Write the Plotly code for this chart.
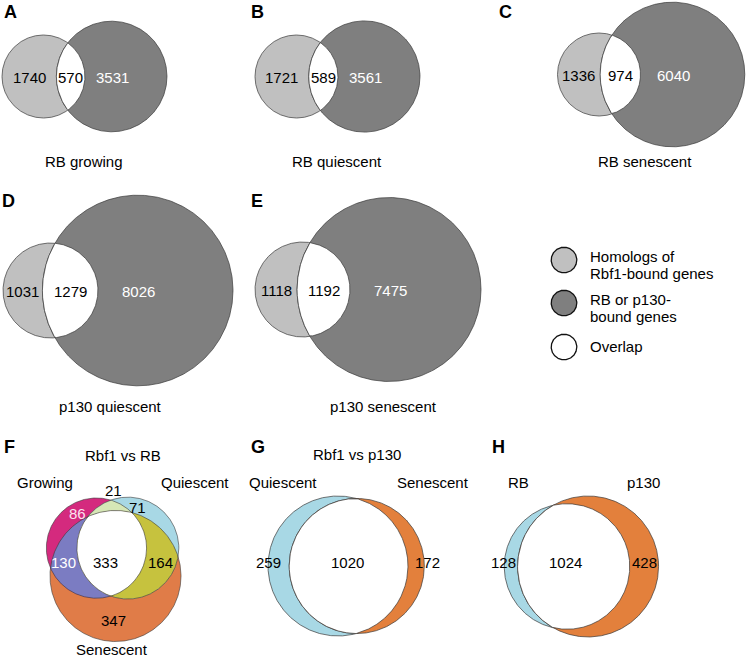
import numpy as np
import plotly.graph_objects as go

# ---------------- data ----------------
two_set_panels = ["A", "B", "C", "D", "E"]
two_set_titles = ["RB growing", "RB quiescent", "RB senescent", "p130 quiescent", "p130 senescent"]
rbf1_only = [1740, 1721, 1336, 1031, 1118]
shared = [570, 589, 974, 1279, 1192]
rb_p130_only = [3531, 3561, 6040, 8026, 7475]

f_title = "Rbf1 vs RB"
f_sets = ["Growing", "Quiescent", "Senescent"]
f_only = [86, 71, 347]          # Growing only, Quiescent only, Senescent only
f_pair_only = [21, 130, 164]    # G&Q only, G&S only, Q&S only
f_all = 333

g_title = "Rbf1 vs p130"
g_sets = ["Quiescent", "Senescent"]
g_values = [259, 1020, 172]     # left only, both, right only

h_sets = ["RB", "p130"]
h_values = [128, 1024, 428]

legend_labels = [["Homologs of", "Rbf1-bound genes"], ["RB or p130-", "bound genes"], ["Overlap"]]

# ---------------- styles / layout ----------------
W, H = 747, 659
FONT = "Liberation Sans, Arial, sans-serif"
LIGHT, DARK, EDGE = "#c0c0c0", "#7f7f7f", "#3a3a3a"
MAG, BLUE, ORANGE = "#d42a7e", "#a8d8e5", "#e07c48"
GREEN, PURPLE, OLIVE = "#d6e7b6", "#7b7cc2", "#c6c23e"
ORANGE2 = "#e3803c"

# per-panel scale (px per sqrt(gene)) and anchor (left circle centre)
two_set_scale = [0.8635, 0.8635, 0.8635, 0.988, 0.988]
two_set_anchor = [(43.5, 76.5), (296.5, 76.5), (599.0, 74.5), (50.5, 290.5), (302.5, 289.5)]
two_set_title_pos = [(84, 161), (337, 161), (645, 161), (110, 406), (383, 406)]
letter_pos = {"A": (10, 12), "B": (257, 12), "C": (505, 12), "D": (8, 201), "E": (257, 201),
              "F": (9, 447), "G": (258, 447), "H": (498, 447)}


def lens_area(r1, r2, d):
    if d >= r1 + r2:
        return 0.0
    if d <= abs(r1 - r2):
        return np.pi * min(r1, r2) ** 2
    a1 = r1 * r1 * np.arccos((d * d + r1 * r1 - r2 * r2) / (2 * d * r1))
    a2 = r2 * r2 * np.arccos((d * d + r2 * r2 - r1 * r1) / (2 * d * r2))
    a3 = 0.5 * np.sqrt((-d + r1 + r2) * (d + r1 - r2) * (d - r1 + r2) * (d + r1 + r2))
    return a1 + a2 - a3


def solve_distance(r1, r2, target):
    lo, hi = abs(r1 - r2), r1 + r2
    for _ in range(100):
        mid = 0.5 * (lo + hi)
        if lens_area(r1, r2, mid) > target:
            lo = mid
        else:
            hi = mid
    return 0.5 * (lo + hi)


def circle_intersections(c1, c2):
    (x1, y1, r1), (x2, y2, r2) = c1, c2
    d = np.hypot(x2 - x1, y2 - y1)
    if d >= r1 + r2 or d <= abs(r1 - r2) or d == 0:
        return []
    a = (d * d + r1 * r1 - r2 * r2) / (2 * d)
    h = np.sqrt(max(r1 * r1 - a * a, 0))
    xm, ym = x1 + a * (x2 - x1) / d, y1 + a * (y2 - y1) / d
    return [(xm + h * (y2 - y1) / d, ym - h * (x2 - x1) / d),
            (xm - h * (y2 - y1) / d, ym + h * (x2 - x1) / d)]


def circle_xy(c, n=721):
    t = np.linspace(0, 2 * np.pi, n)
    return c[0] + c[2] * np.cos(t), c[1] + c[2] * np.sin(t)


def intersection_polygon(circles, n=2880):
    pts = []
    t = np.linspace(0, 2 * np.pi, n, endpoint=False)
    for i, (cx, cy, r) in enumerate(circles):
        x, y = cx + r * np.cos(t), cy + r * np.sin(t)
        m = np.ones(n, bool)
        for j, (cx2, cy2, r2) in enumerate(circles):
            if j != i:
                m &= (x - cx2) ** 2 + (y - cy2) ** 2 <= r2 * r2
        pts.append(np.c_[x[m], y[m]])
    for i in range(len(circles)):
        for j in range(i + 1, len(circles)):
            for p in circle_intersections(circles[i], circles[j]):
                ok = all((p[0] - c[0]) ** 2 + (p[1] - c[1]) ** 2 <= c[2] ** 2 + 1e-6
                         for k, c in enumerate(circles) if k not in (i, j))
                if ok:
                    pts.append(np.array([p]))
    P = np.vstack(pts)
    c = P.mean(axis=0)
    P = P[np.argsort(np.arctan2(P[:, 1] - c[1], P[:, 0] - c[0]))]
    return np.r_[P[:, 0], P[0, 0]], np.r_[P[:, 1], P[0, 1]]


fig = go.Figure()
annotations = []


def add_fill(x, y, color, edge=EDGE, width=0.7):
    fig.add_trace(go.Scatter(x=x, y=y, mode="lines", fill="toself", fillcolor=color,
                             line=dict(color=edge, width=width), hoverinfo="skip", showlegend=False))


def add_outline(c, edge=EDGE, width=0.7):
    x, y = circle_xy(c)
    fig.add_trace(go.Scatter(x=x, y=y, mode="lines", line=dict(color=edge, width=width),
                             hoverinfo="skip", showlegend=False))


def label(x, y, text, color="black", size=15, bold=False, xanchor="center"):
    annotations.append(dict(x=x, y=y, text=f"<b>{text}</b>" if bold else text, showarrow=False,
                            xanchor=xanchor, yanchor="middle", xref="x", yref="y",
                            font=dict(family=FONT, size=size, color=color)))


def two_circle(anchor, k, n_left, n_both, n_right, c_left, c_right):
    r1 = k * np.sqrt(n_left + n_both)
    r2 = k * np.sqrt(n_right + n_both)
    d = solve_distance(r1, r2, np.pi * k * k * n_both)
    cl = (anchor[0], anchor[1], r1)
    cr = (anchor[0] + d, anchor[1], r2)
    add_fill(*circle_xy(cl), c_left)
    add_fill(*circle_xy(cr), c_right)
    add_fill(*intersection_polygon([cl, cr]), "white")
    return cl, cr


# ---- panels A-E ----
for i, p in enumerate(two_set_panels):
    cl, cr = two_circle(two_set_anchor[i], two_set_scale[i], rbf1_only[i], shared[i],
                        rb_p130_only[i], LIGHT, DARK)
    left_edge, lens_l, lens_r = cl[0] - cl[2], cr[0] - cr[2], cl[0] + cl[2]
    yc = cl[1] + 0.5
    label((left_edge + lens_l) / 2, yc, f"{rbf1_only[i]}")
    label((lens_l + lens_r) / 2, yc, f"{shared[i]}")
    label(cr[0] + 1, yc, f"{rb_p130_only[i]}", color="white")
    label(*two_set_title_pos[i], two_set_titles[i])

# ---- panel F (three sets) ----
kF = 2.1
S_centre = (115.5, 576.0)
rG = kF * np.sqrt(f_only[0] + f_pair_only[0] + f_pair_only[1] + f_all)
rQ = kF * np.sqrt(f_only[1] + f_pair_only[0] + f_pair_only[2] + f_all)
rS = kF * np.sqrt(f_only[2] + f_pair_only[1] + f_pair_only[2] + f_all)
unit = np.pi * kF * kF
dGQ = solve_distance(rG, rQ, unit * (f_pair_only[0] + f_all))
dGS = solve_distance(rG, rS, unit * (f_pair_only[1] + f_all))
dQS = solve_distance(rQ, rS, unit * (f_pair_only[2] + f_all))
u = (dQS ** 2 - dGS ** 2 - dGQ ** 2) / (2 * dGQ)
hgt = np.sqrt(max(dGS ** 2 - u ** 2, 0))
cG = (S_centre[0] + u, S_centre[1] - hgt, rG)
cQ = (S_centre[0] + u + dGQ, S_centre[1] - hgt, rQ)
cS = (S_centre[0], S_centre[1], rS)
add_fill(*circle_xy(cS), ORANGE, width=0)
add_fill(*circle_xy(cG), MAG, width=0)
add_fill(*circle_xy(cQ), BLUE, width=0)
add_fill(*intersection_polygon([cG, cQ]), GREEN, width=0)
add_fill(*intersection_polygon([cG, cS]), PURPLE, width=0)
add_fill(*intersection_polygon([cQ, cS]), OLIVE, width=0)
add_fill(*intersection_polygon([cG, cQ, cS]), "white", width=0)
for c in (cG, cQ, cS):
    add_outline(c, width=0.6)

label(123, 455, f_title)
label(45, 482, f_sets[0])
label(195, 482, f_sets[1])
label(112, 649, f_sets[2])
label(113, 490, f"{f_pair_only[0]}")
label(77, 513, f"{f_only[0]}", color="#fbe3ee")
label(137, 507, f"{f_only[1]}")
label(63, 562, f"{f_pair_only[1]}", color="white")
label(105, 562, f"{f_all}")
label(160, 562, f"{f_pair_only[2]}")
label(113, 620, f"{f_only[2]}")

# ---- panel G ----
two_circle((338.0, 566.0), 1.957, g_values[0], g_values[1], g_values[2], BLUE, ORANGE2)
label(357, 454, g_title)
label(283, 482, g_sets[0])
label(433, 482, g_sets[1])
label(268, 562, f"{g_values[0]}")
label(347, 562, f"{g_values[1]}")
label(427, 562, f"{g_values[2]}")

# ---- panel H ----
two_circle((567.0, 566.5), 1.85, h_values[0], h_values[1], h_values[2], BLUE, ORANGE2)
label(518, 482, h_sets[0])
label(643, 482, h_sets[1])
label(503, 562, f"{h_values[0]}")
label(565, 562, f"{h_values[1]}")
label(644, 562, f"{h_values[2]}")

# ---- legend ----
legend_fill = [LIGHT, DARK, "white"]
legend_y = [260, 303, 347]
legend_text_y = [[256, 273], [299, 316], [346]]
for fc, yy, lines, tys in zip(legend_fill, legend_y, legend_labels, legend_text_y):
    add_fill(*circle_xy((564, yy, 12.8)), fc, edge="#111111", width=1.3)
    for line, ty in zip(lines, tys):
        label(588, ty, line, xanchor="left")

# ---- panel letters ----
for letter, (lx, ly) in letter_pos.items():
    label(lx, ly, letter, size=18, bold=True)

fig.update_layout(
    width=W, height=H, margin=dict(l=0, r=0, t=0, b=0),
    paper_bgcolor="white", plot_bgcolor="white",
    xaxis=dict(range=[0, W], visible=False, fixedrange=True),
    yaxis=dict(range=[H, 0], visible=False, fixedrange=True),
    annotations=annotations, showlegend=False,
)
fig.write_html("out.html", config={"displayModeBar": False},
               post_script="document.body.style.margin='0';document.body.style.overflow='hidden';")
